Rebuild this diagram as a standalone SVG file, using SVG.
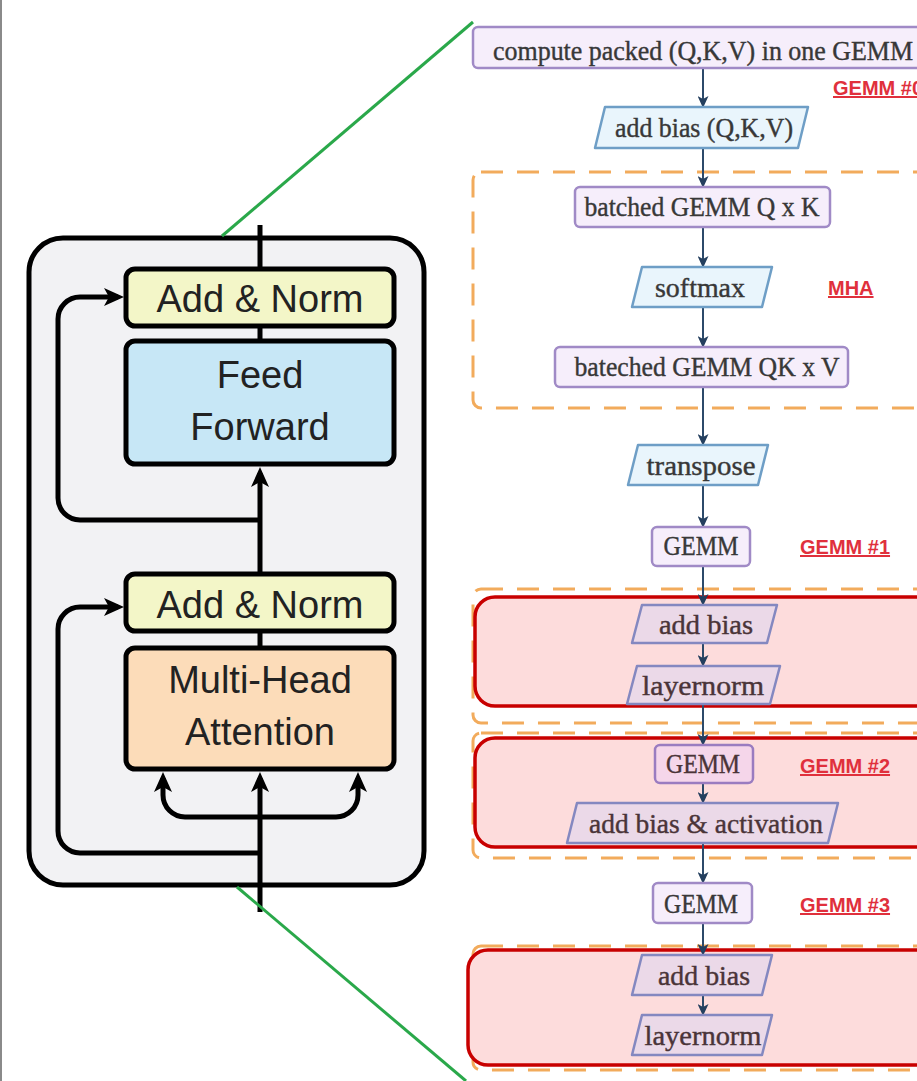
<svg xmlns="http://www.w3.org/2000/svg" width="917" height="1081" viewBox="0 0 917 1081">
<style>
.blk{fill:none;stroke:#000;stroke-width:5}
.box{stroke:#000;stroke-width:5}
.lt{font-family:"Liberation Sans",Arial,sans-serif;font-size:38px;fill:#222;text-anchor:middle}
.rect{fill:#f6eefb;stroke:#a08ac6;stroke-width:2.5}
.rect2{fill:#f5d6ea;stroke:#9a7cc0;stroke-width:2.5}
.para{fill:#e9f5fc;stroke:#6e9ec6;stroke-width:2.5;stroke-linejoin:round}
.para2{fill:#ebd9e8;stroke:#8488c0;stroke-width:2.5;stroke-linejoin:round}
.nt{font-family:"Liberation Serif","Times New Roman",serif;font-size:27px;fill:#383838;stroke:#383838;stroke-width:0.4;text-anchor:middle}
.nt2{font-family:"Liberation Serif","Times New Roman",serif;font-size:27px;fill:#4a3438;stroke:#4a3438;stroke-width:0.4;text-anchor:middle}
.con{fill:none;stroke:#2c4a6a;stroke-width:2}
.orange{fill:none;stroke:#f2ab5c;stroke-width:3;stroke-dasharray:22 14}
.red{fill:#fddcdc;stroke:#c80000;stroke-width:3.5}
.lab{font-family:"Liberation Sans",Arial,sans-serif;font-weight:bold;font-size:20px;fill:#e0303c;text-decoration:underline}
.green{stroke:#2aa84a;stroke-width:3}
</style>
<defs>
<marker id="ah" viewBox="0 0 20 18" refX="14" refY="9" markerWidth="20" markerHeight="18" markerUnits="userSpaceOnUse" orient="auto">
<path d="M0,0 L20,9 L0,18 L5,9 z" fill="#000"/>
</marker>
<marker id="sa" viewBox="0 0 12 11" refX="11" refY="5.5" markerWidth="12" markerHeight="11" markerUnits="userSpaceOnUse" orient="auto">
<path d="M0,0 L12,5.5 L0,11 L3,5.5 z" fill="#243f5e"/>
</marker>
</defs>
<rect width="917" height="1081" fill="#fff"/>
<line x1="1" y1="0" x2="1" y2="1081" stroke="#8a8a8a" stroke-width="2"/>

<g id="encoder-block">
<rect x="29" y="238" width="395" height="647" rx="34" fill="#f2f2f4" class="box"/>
</g>

<g id="left-connectors">
<path class="blk" d="M260,269 V225"/>
<path class="blk" d="M260,341 V326"/>
<path class="blk" d="M260,574 V473" marker-end="url(#ah)"/>
<path class="blk" d="M260,648 V631"/>
<path class="blk" d="M260,912 V778" marker-end="url(#ah)"/>
<path class="blk" d="M260,817 H185 A22,22 0 0 1 163,795 V778" marker-end="url(#ah)"/>
<path class="blk" d="M260,817 H336 A22,22 0 0 0 358,795 V778" marker-end="url(#ah)"/>
<path class="blk" d="M260,520 H80 A22,22 0 0 1 58,498 V319 A22,22 0 0 1 80,297 H118" marker-end="url(#ah)"/>
<path class="blk" d="M260,853 H80 A22,22 0 0 1 58,831 V629 A22,22 0 0 1 80,607 H118" marker-end="url(#ah)"/>
</g>

<g id="add-norm-top">
<rect x="126" y="269" width="268" height="57" rx="9" fill="#f3f6c8" class="box"/>
<text class="lt" x="260" y="312">Add &amp; Norm</text>
</g>
<g id="feed-forward">
<rect x="126" y="341" width="268" height="123" rx="9" fill="#c7e7f6" class="box"/>
<text class="lt" x="260" y="388">Feed</text>
<text class="lt" x="260" y="440">Forward</text>
</g>
<g id="add-norm-bottom">
<rect x="126" y="574" width="268" height="57" rx="9" fill="#f3f6c8" class="box"/>
<text class="lt" x="260" y="618">Add &amp; Norm</text>
</g>
<g id="multi-head-attention">
<rect x="126" y="648" width="268" height="121" rx="9" fill="#fcdcb9" class="box"/>
<text class="lt" x="260" y="693">Multi-Head</text>
<text class="lt" x="260" y="745">Attention</text>
</g>

<g id="zoom-lines">
<line class="green" x1="222" y1="236" x2="473" y2="22"/>
<line class="green" x1="237" y1="887" x2="466" y2="1081"/>
</g>

<g id="groups">
<rect class="orange" x="473" y="172" width="470" height="236" rx="8"/>
<rect class="orange" x="473" y="589" width="470" height="134" rx="8"/>
<rect class="orange" x="473" y="733" width="470" height="125" rx="8"/>
<rect class="orange" x="473" y="946" width="470" height="124" rx="8"/>
</g>

<g id="fused">
<rect class="red" x="475" y="597" width="470" height="109" rx="20"/>
<rect class="red" x="475" y="738" width="470" height="109" rx="20"/>
<rect class="red" x="468" y="950" width="477" height="115" rx="20"/>
</g>

<g id="connectors">
<path class="con" d="M703,68 V107" marker-end="url(#sa)"/>
<path class="con" d="M703,148 V187" marker-end="url(#sa)"/>
<path class="con" d="M703,227 V267" marker-end="url(#sa)"/>
<path class="con" d="M703,307 V347" marker-end="url(#sa)"/>
<path class="con" d="M703,387 V445" marker-end="url(#sa)"/>
<path class="con" d="M703,485 V527" marker-end="url(#sa)"/>
<path class="con" d="M703,566 V605" marker-end="url(#sa)"/>
<path class="con" d="M703,643 V666" marker-end="url(#sa)"/>
<path class="con" d="M703,704 V745" marker-end="url(#sa)"/>
<path class="con" d="M703,783 V803" marker-end="url(#sa)"/>
<path class="con" d="M703,843 V883" marker-end="url(#sa)"/>
<path class="con" d="M703,923 V955" marker-end="url(#sa)"/>
<path class="con" d="M703,995 V1015" marker-end="url(#sa)"/>
</g>

<g id="n-compute">
<rect class="rect" x="473" y="27" width="470" height="41" rx="5"/>
<text class="nt" x="703" y="60" textLength="420" lengthAdjust="spacingAndGlyphs">compute packed (Q,K,V) in one GEMM</text>
</g>
<g id="n-addbias-qkv">
<path class="para" d="M605,107 H808 L798,148 H595 Z"/>
<text class="nt" x="704" y="137" textLength="178" lengthAdjust="spacingAndGlyphs">add bias (Q,K,V)</text>
</g>
<g id="n-qk">
<rect class="rect" x="575" y="187" width="255" height="40" rx="5"/>
<text class="nt" x="702" y="216" textLength="235" lengthAdjust="spacingAndGlyphs">batched GEMM Q x K</text>
</g>
<g id="n-softmax">
<path class="para" d="M642,267 H772 L762,307 H632 Z"/>
<text class="nt" x="700" y="297" textLength="90" lengthAdjust="spacingAndGlyphs">softmax</text>
</g>
<g id="n-qkv">
<rect class="rect" x="555" y="347" width="293" height="40" rx="5"/>
<text class="nt" x="707" y="376" textLength="265" lengthAdjust="spacingAndGlyphs">bateched GEMM QK x V</text>
</g>
<g id="n-transpose">
<path class="para" d="M638,445 H768 L758,485 H628 Z"/>
<text class="nt" x="701" y="475" textLength="109" lengthAdjust="spacingAndGlyphs">transpose</text>
</g>
<g id="n-gemm1">
<rect class="rect" x="652" y="527" width="98" height="39" rx="5"/>
<text class="nt" x="701" y="555" textLength="75" lengthAdjust="spacingAndGlyphs">GEMM</text>
</g>
<g id="n-addbias1">
<path class="para2" d="M642,605 H777 L767,643 H632 Z"/>
<text class="nt2" x="706" y="634" textLength="94" lengthAdjust="spacingAndGlyphs">add bias</text>
</g>
<g id="n-layernorm1">
<path class="para2" d="M637,666 H780 L770,704 H627 Z"/>
<text class="nt2" x="703" y="695" textLength="122" lengthAdjust="spacingAndGlyphs">layernorm</text>
</g>
<g id="n-gemm2">
<rect class="rect2" x="655" y="745" width="98" height="38" rx="5"/>
<text class="nt2" x="703" y="773" textLength="74" lengthAdjust="spacingAndGlyphs">GEMM</text>
</g>
<g id="n-act">
<path class="para2" d="M577,803 H838 L828,843 H567 Z"/>
<text class="nt2" x="706" y="833" textLength="234" lengthAdjust="spacingAndGlyphs">add bias &amp; activation</text>
</g>
<g id="n-gemm3">
<rect class="rect" x="653" y="883" width="99" height="40" rx="5"/>
<text class="nt" x="701" y="913" textLength="74" lengthAdjust="spacingAndGlyphs">GEMM</text>
</g>
<g id="n-addbias3">
<path class="para2" d="M642,955 H772 L762,995 H632 Z"/>
<text class="nt2" x="704" y="985" textLength="92" lengthAdjust="spacingAndGlyphs">add bias</text>
</g>
<g id="n-layernorm3">
<path class="para2" d="M642,1015 H772 L762,1055 H632 Z"/>
<text class="nt2" x="703" y="1045" textLength="117" lengthAdjust="spacingAndGlyphs">layernorm</text>
</g>

<g id="labels">
<text class="lab" x="833" y="95">GEMM #0</text>
<text class="lab" x="828" y="295">MHA</text>
<text class="lab" x="800" y="554">GEMM #1</text>
<text class="lab" x="800" y="773">GEMM #2</text>
<text class="lab" x="800" y="912">GEMM #3</text>
</g>
</svg>
